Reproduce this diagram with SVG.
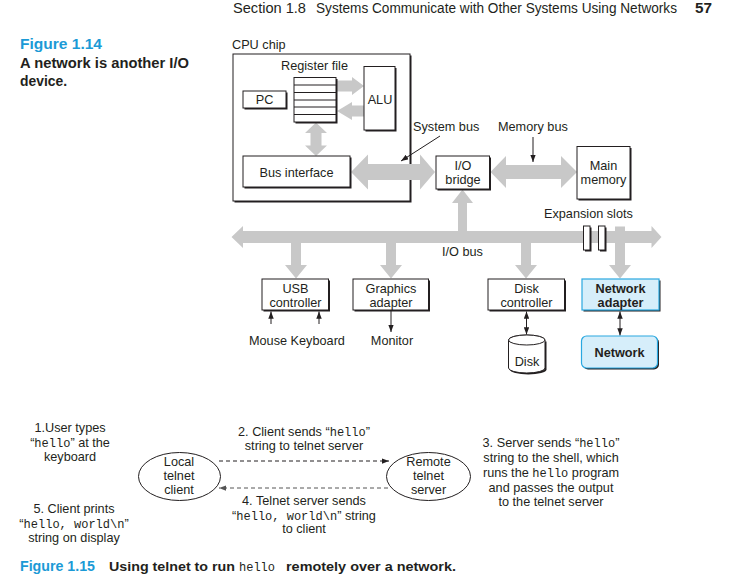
<svg xmlns="http://www.w3.org/2000/svg" width="739" height="581" viewBox="0 0 739 581">
<defs>
<style>
.t{font-family:"Liberation Sans",Arial,sans-serif;font-size:12.7px;fill:#231f20}
.c{text-anchor:middle}
.b{font-weight:bold}
.m{font-family:"Liberation Mono","Courier New",monospace;font-size:12px}
.hd{font-family:"Liberation Sans Narrow","Liberation Sans",Arial,sans-serif;font-size:14px;fill:#231f20}
.blue{fill:#1b9ad6}
.bus{fill:#c8c8c8}
.box{fill:#fff;stroke:#231f20;stroke-width:1}
.sh{fill:#231f20}
.nbox{fill:#d6eefa;stroke:#2aa8e0;stroke-width:1.2}
.ln{stroke:#231f20;stroke-width:1;fill:none}
.dash{stroke-dasharray:4 3}
</style>
<marker id="ah" viewBox="0 0 8 6" refX="8" refY="3" markerWidth="7.5" markerHeight="5.5" markerUnits="userSpaceOnUse" orient="auto-start-reverse"><path d="M0,0 L8,3 L0,6 z" fill="#231f20"/></marker>
<marker id="ahg" viewBox="0 0 8 6" refX="8" refY="3" markerWidth="7.5" markerHeight="5.5" markerUnits="userSpaceOnUse" orient="auto-start-reverse"><path d="M0,0 L8,3 L0,6 z" fill="#555"/></marker>
</defs>
<rect width="739" height="581" fill="#fff"/>

<!-- header -->
<text class="hd" x="233" y="12.5" font-size="13.5" textLength="73" lengthAdjust="spacingAndGlyphs">Section 1.8</text>
<text class="hd" x="316" y="12.5" font-size="13.5" textLength="361" lengthAdjust="spacingAndGlyphs">Systems Communicate with Other Systems Using Networks</text>
<text class="hd b" x="695" y="12.5" font-size="13.5" textLength="17" lengthAdjust="spacingAndGlyphs">57</text>

<text class="hd b blue" x="20" y="49" font-size="15" textLength="82" lengthAdjust="spacingAndGlyphs">Figure 1.14</text>
<text class="hd b" x="20" y="68" textLength="169" lengthAdjust="spacingAndGlyphs">A network is another I/O</text>
<text class="hd b" x="20" y="86" textLength="47" lengthAdjust="spacingAndGlyphs">device.</text>

<!-- CPU chip -->
<g id="cpu-chip">
<text class="t" x="232" y="49">CPU chip</text>
<rect class="sh" x="234.5" y="55.5" width="177" height="147"/>
<rect class="box" x="233" y="54" width="177" height="147"/>
</g>

<g id="connectors">
<polygon class="bus" points="337,80.5 352,80.5 352,77 364,86 352,95 352,91.5 337,91.5"/>
<polygon class="bus" points="364,105.5 352,105.5 352,102 337,111 352,120 352,116.5 364,116.5"/>
<polygon class="bus" points="316,122.5 327,133 321.5,133 321.5,145.5 327,145.5 316,156 305,145.5 310.5,145.5 310.5,133 305,133"/>
<polygon class="bus" points="351,172 368,154.5 368,164 420,164 420,154.5 435,172 420,189.5 420,180 368,180 368,189.5"/>
<polygon class="bus" points="490.5,172 506,156 506,165 561,165 561,156 577,172 561,188 561,179 506,179 506,188"/>
<polygon class="bus" points="231.5,237 243,226 243,231 651.5,231 651.5,226 661.5,237 651.5,248 651.5,243 243,243 243,248"/>
<polygon class="bus" points="458,232 458,203 452,203 462.5,189.5 473,203 467,203 467,232"/>
<polygon class="bus" points="291,242 291,265 285,265 296,278.5 307,265 301,265 301,242"/>
<polygon class="bus" points="386,242 386,265 380,265 391,278.5 402,265 396,265 396,242"/>
<polygon class="bus" points="521,242 521,265 515,265 526,278.5 537,265 531,265 531,242"/>
<polygon class="bus" points="615,226.5 615,265 609,265 620,278.5 631,265 625,265 625,226.5"/>

<line class="ln" x1="440" y1="136" x2="401" y2="161" marker-end="url(#ah)"/>
<line class="ln" x1="533" y1="137" x2="533" y2="162" marker-end="url(#ah)"/>
<line class="ln" x1="271" y1="324" x2="271" y2="311.5" marker-end="url(#ah)"/>
<line class="ln" x1="319" y1="324" x2="319" y2="311.5" marker-end="url(#ah)"/>
<line class="ln" x1="391" y1="311" x2="391" y2="332" marker-end="url(#ah)"/>
<line class="ln" x1="526.5" y1="311.5" x2="526.5" y2="334.5" marker-start="url(#ah)" marker-end="url(#ah)"/>
<line class="ln" x1="620" y1="311.5" x2="620" y2="335.5" marker-start="url(#ah)" marker-end="url(#ah)"/>

<line class="ln dash" x1="219" y1="461" x2="389" y2="461" marker-end="url(#ah)"/>
<line class="ln dash" style="stroke:#555" x1="388" y1="488" x2="219" y2="488" marker-end="url(#ahg)"/>
</g>

<text class="t" x="413" y="131">System bus</text>
<text class="t" x="498" y="131">Memory bus</text>
<text class="t" x="544" y="218">Expansion slots</text>
<text class="t" x="442" y="256">I/O bus</text>

<g id="register-file">
<text class="t c" x="314.5" y="70">Register file</text>
<rect class="sh" x="295.5" y="79" width="42" height="44.5"/>
<rect class="box" x="294" y="77.5" width="42" height="44.5"/>
<path class="ln" d="M294,85 H336 M294,92.5 H336 M294,100 H336 M294,107 H336 M294,114.5 H336"/>
</g>

<g id="pc">
<rect class="sh" x="244.5" y="92.5" width="43" height="17"/>
<rect class="box" x="243" y="91" width="43" height="17"/>
<text class="t c" x="264.5" y="104">PC</text>
</g>

<g id="alu">
<rect class="sh" x="365.5" y="68" width="31" height="63.5"/>
<rect class="box" x="364" y="66.5" width="31" height="63.5"/>
<text class="t c" x="380" y="103.5">ALU</text>
</g>

<g id="bus-interface">
<rect class="sh" x="244.5" y="157.5" width="107" height="31"/>
<rect class="box" x="243" y="156" width="107" height="31"/>
<text class="t c" x="296.5" y="176.5">Bus interface</text>
</g>

<g id="io-bridge">
<rect class="sh" x="437.5" y="157.5" width="53.5" height="33"/>
<rect class="box" x="436" y="156" width="53.5" height="33"/>
<text class="t c" x="463" y="170">I/O</text>
<text class="t c" x="463" y="183.5">bridge</text>
</g>

<g id="main-memory">
<rect class="sh" x="578.5" y="148" width="53" height="52.5"/>
<rect class="box" x="577" y="146.5" width="53" height="52.5"/>
<text class="t c" x="603.5" y="170">Main</text>
<text class="t c" x="603.5" y="183.5">memory</text>
</g>

<g id="expansion-slots">
<rect class="sh" x="585" y="227.5" width="6.5" height="24"/>
<rect class="box" x="583.5" y="226" width="6.5" height="24"/>
<rect class="sh" x="600" y="227.5" width="6.5" height="24"/>
<rect class="box" x="598.5" y="226" width="6.5" height="24"/>
</g>

<g id="usb-controller">
<rect class="sh" x="263.5" y="280.5" width="66.5" height="31"/>
<rect class="box" x="262" y="279" width="66.5" height="31"/>
<text class="t c" x="295.5" y="292.5">USB</text>
<text class="t c" x="295.5" y="306.5">controller</text>
<text class="t" x="249" y="345">Mouse Keyboard</text>
</g>

<g id="graphics-adapter">
<rect class="sh" x="354.5" y="280.5" width="75.5" height="31"/>
<rect class="box" x="353" y="279" width="75.5" height="31"/>
<text class="t c" x="391" y="292.5">Graphics</text>
<text class="t c" x="391" y="306.5">adapter</text>
<text class="t c" x="392" y="345">Monitor</text>
</g>

<g id="disk-controller">
<rect class="sh" x="489.5" y="280.5" width="76.5" height="31"/>
<rect class="box" x="488" y="279" width="76.5" height="31"/>
<text class="t c" x="526.5" y="292.5">Disk</text>
<text class="t c" x="526.5" y="306.5">controller</text>
</g>

<g id="disk">
<path class="sh" d="M510,341.5 V369.5 A18.25,5 0 0 0 546.5,369.5 V341.5 Z"/>
<path class="box" d="M508.5,340 V368 A18.25,5 0 0 0 545,368 V340 A18.25,5 0 0 0 508.5,340 Z"/>
<ellipse class="box" cx="526.75" cy="340" rx="18.25" ry="5"/>
<text class="t c" x="527" y="365.5">Disk</text>
</g>

<g id="network-adapter">
<rect class="sh" x="583.5" y="280.5" width="77" height="31"/>
<rect class="nbox" x="582" y="279" width="77" height="31"/>
<text class="t c b" x="620.5" y="292.5">Network</text>
<text class="t c b" x="620.5" y="306.5">adapter</text>
</g>

<g id="network">
<rect class="sh" x="583" y="337.5" width="76" height="32" rx="5"/>
<rect class="nbox" x="581.5" y="336" width="76" height="32" rx="5"/>
<text class="t c b" x="619.5" y="357">Network</text>
</g>

<g id="local-client">
<ellipse class="box" cx="179.5" cy="476.5" rx="41" ry="24"/>
<text class="t c" x="179" y="466">Local</text>
<text class="t c" x="179" y="480">telnet</text>
<text class="t c" x="179" y="494">client</text>
</g>

<g id="remote-server">
<ellipse class="box" cx="428.5" cy="476.5" rx="42" ry="24"/>
<text class="t c" x="428.5" y="466">Remote</text>
<text class="t c" x="428.5" y="480">telnet</text>
<text class="t c" x="428.5" y="494">server</text>
</g>

<text class="t c" x="70" y="432">1.User types</text>
<text class="t c" x="70" y="446.5">“<tspan class="m">hello</tspan>” at the</text>
<text class="t c" x="70" y="460.5">keyboard</text>

<text class="t c" x="304" y="436">2. Client sends “<tspan class="m">hello</tspan>”</text>
<text class="t c" x="304" y="450">string to telnet server</text>

<text class="t c" x="551" y="447">3. Server sends “<tspan class="m">hello</tspan>”</text>
<text class="t c" x="551" y="462">string to the shell, which</text>
<text class="t c" x="551" y="476.5">runs the <tspan class="m">hello</tspan> program</text>
<text class="t c" x="551" y="491.5">and passes the output</text>
<text class="t c" x="551" y="505.5">to the telnet server</text>

<text class="t c" x="304" y="505">4. Telnet server sends</text>
<text class="t c" x="304" y="519.5">“<tspan class="m">hello, world\n</tspan>” string</text>
<text class="t c" x="304" y="533">to client</text>

<text class="t c" x="74" y="513">5. Client prints</text>
<text class="t c" x="74" y="528">“<tspan class="m">hello, world\n</tspan>”</text>
<text class="t c" x="74" y="541.5">string on display</text>

<text class="hd b blue" x="20" y="571" font-size="15" textLength="75" lengthAdjust="spacingAndGlyphs">Figure 1.15</text>
<text class="t b" x="109" y="571" font-size="14.3" textLength="126" lengthAdjust="spacingAndGlyphs">Using telnet to run</text>
<text class="m" x="239" y="571" font-size="14.5" fill="#231f20">hello</text>
<text class="t b" x="286" y="571" font-size="14.3" textLength="170" lengthAdjust="spacingAndGlyphs">remotely over a network.</text>
</svg>
